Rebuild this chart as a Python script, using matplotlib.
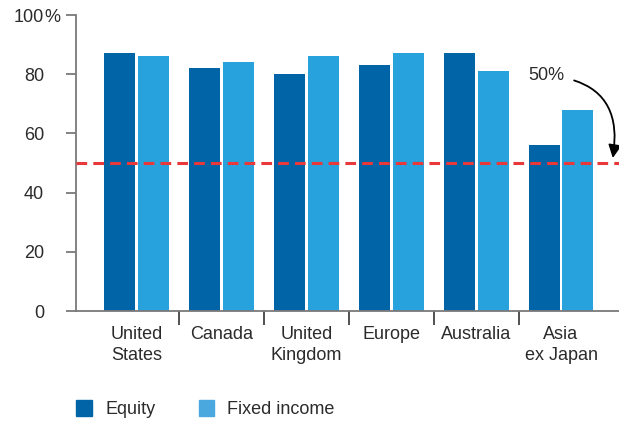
import matplotlib.pyplot as plt
import numpy as np
from matplotlib.patches import Patch

regions = ['United\nStates', 'Canada', 'United\nKingdom', 'Europe', 'Australia', 'Asia\nex Japan']
equity = [87, 82, 80, 83, 87, 56]
fixed_income = [86, 84, 86, 87, 81, 68]
yticks = [0, 20, 40, 60, 80, 100]
ytick_labels = ['0', '20', '40', '60', '80', '100']

c_eq = '#0064a6'
c_fi = '#27a2dc'
txt = '#2b2b2b'
axis_grey = '#7a7a7a'

plt.rcParams['font.family'] = ['Liberation Sans', 'DejaVu Sans']

fig = plt.figure(figsize=(6.19, 4.23), dpi=100)
ax = fig.add_axes([76/619, 1 - 311/423, 543/619, 296/423])

x = np.arange(len(regions))
w = 0.365
ax.bar(x - 0.2, equity, w, color=c_eq, zorder=2)
ax.bar(x + 0.2, fixed_income, w, color=c_fi, zorder=2)

ax.axhline(50, color='#e8383a', lw=2.2, ls=(0, (3.5, 2)), zorder=3)

ax.set_xlim(-0.7126, 5.683)
ax.set_ylim(0, 100)

for s in ['top', 'right']:
    ax.spines[s].set_visible(False)
ax.spines['left'].set_color(axis_grey)
ax.spines['left'].set_linewidth(1.3)
ax.spines['bottom'].set_color(axis_grey)
ax.spines['bottom'].set_linewidth(1.3)

ax.set_yticks(yticks)
ax.set_yticklabels(ytick_labels)
ax.tick_params(axis='y', length=7, width=1.3, color=axis_grey, pad=16,
               labelsize=13, labelcolor=txt)
# percent sign hangs to the right of "100"
ax.annotate('%', xy=(0, 100), xycoords=('axes fraction', 'data'),
            xytext=(-23, 0), textcoords='offset points',
            ha='left', va='center_baseline', fontsize=13, color=txt)

# separators between groups as minor ticks, labels on major positions
ax.set_xticks(x)
ax.set_xticklabels(regions, linespacing=1.3)
ax.tick_params(axis='x', which='major', length=0, pad=11, labelsize=13, labelcolor=txt)
ax.set_xticks(x[:-1] + 0.5, minor=True)
ax.tick_params(axis='x', which='minor', length=10, width=1.1, color='#222222', direction='out')

ax.annotate('50%', xy=(5.61, 51.7), xytext=(4.83, 79.5),
            fontsize=13, color=txt, ha='center', va='center',
            arrowprops=dict(arrowstyle='-|>,head_length=0.6,head_width=0.3',
                            color='black', lw=1.3,
                            connectionstyle='arc3,rad=-0.55',
                            shrinkA=5, shrinkB=0))

handles = [Patch(color=c_eq, label='Equity'), Patch(color='#4aa8de', label='Fixed income')]
fig.legend(handles=handles, loc='center left', bbox_to_anchor=(60/619, 1 - 409/423),
           ncol=2, frameon=False, fontsize=13, labelcolor=txt,
           handlelength=0.85, handleheight=1.05, handletextpad=0.75, columnspacing=2.4)

fig.savefig('out.png', dpi=100)
